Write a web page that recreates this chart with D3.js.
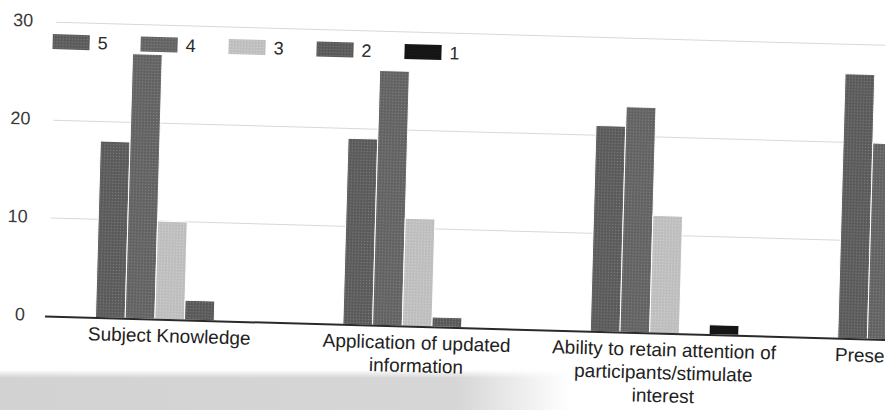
<!DOCTYPE html>
<html>
<head>
<meta charset="utf-8">
<script src="https://cdn.jsdelivr.net/npm/d3@7"></script>
<style>
  html, body { margin: 0; padding: 0; background: #fff; }
  svg { display: block; font-family: "Liberation Sans", Arial, sans-serif; }
</style>
</head>
<body>
<svg id="chart" width="885" height="410"></svg>
<script>
// ---- data ----
const categories = [
  "Subject Knowledge",
  "Application of updated information",
  "Ability to retain attention of participants/stimulate interest",
  "Presentation skills"
];
const seriesNames = ["5", "4", "3", "2", "1"];
const values5 = [18, 19, 21, 27];
const values4 = [27, 26, 23, 20];
const values3 = [10, 11, 12, 9];
const values2 = [2, 1, 0, 1];
const values1 = [0, 0, 1, 0];
const tickValues = [0, 10, 20, 30];
const seriesValues = [values5, values4, values3, values2, values1];
const seriesColors = ["#5a5a5a", "#626262", "#bdbdbd", "#585858", "#141414"];

// ---- layout ----
const W = 885, H = 410;
const left = 46, baseY = 316, topY = 22, step = 247.5;
const angle = 1.6;

const svg = d3.select("#chart");
svg.append("rect").attr("width", W).attr("height", H).attr("fill", "#fff");

const defs = svg.append("defs");
seriesColors.forEach((c, i) => {
  const p = defs.append("pattern").attr("id", "tex" + i)
    .attr("width", 3).attr("height", 3).attr("patternUnits", "userSpaceOnUse");
  p.append("rect").attr("width", 3).attr("height", 3).attr("fill", c);
  p.append("circle").attr("cx", 1.5).attr("cy", 1.5).attr("r", 0.7)
    .attr("fill", i === 4 ? "#333" : "#fff").attr("opacity", i === 2 ? 0.35 : 0.22);
});
const grad = defs.append("linearGradient").attr("id", "scan").attr("x1", 0).attr("x2", 1);
grad.append("stop").attr("offset", 0).attr("stop-color", "#d2d2d2");
grad.append("stop").attr("offset", 0.8).attr("stop-color", "#d6d6d6");
grad.append("stop").attr("offset", 1).attr("stop-color", "#fff");
const gradV = defs.append("linearGradient").attr("id", "scanV").attr("x1", 0).attr("x2", 0).attr("y1", 0).attr("y2", 1);
gradV.append("stop").attr("offset", 0).attr("stop-color", "#fff").attr("stop-opacity", 1);
gradV.append("stop").attr("offset", 0.2).attr("stop-color", "#fff").attr("stop-opacity", 0);
gradV.append("stop").attr("offset", 1).attr("stop-color", "#fff").attr("stop-opacity", 0);

// scan shadow at bottom
svg.append("rect").attr("x", 0).attr("y", 370).attr("width", 570).attr("height", 40).attr("fill", "url(#scan)");
svg.append("rect").attr("x", 0).attr("y", 370).attr("width", 570).attr("height", 40).attr("fill", "url(#scanV)");

const g = svg.append("g").attr("transform", `rotate(${angle},${left - 1},${baseY})`);

const y = d3.scaleLinear().domain([0, 30]).range([baseY, topY]);
const x0 = d3.scaleBand().domain(categories)
  .range([left, left + categories.length * step])
  .paddingInner(0.4).paddingOuter(0.2);
const x1 = d3.scaleBand().domain(seriesNames).range([0, x0.bandwidth()]);

// gridlines
g.append("g").selectAll("line").data(tickValues.filter(t => t > 0)).join("line")
  .attr("x1", left + 2).attr("x2", 1100)
  .attr("y1", d => y(d)).attr("y2", d => y(d))
  .attr("stroke", "#d8d8d8").attr("stroke-width", 1);

// y tick labels
g.append("g").selectAll("text").data(tickValues).join("text")
  .attr("x", 25).attr("y", d => y(d) + 5)
  .attr("text-anchor", "end").attr("font-size", 18).attr("fill", "#3a3a3a")
  .text(d => d);

// bars
const groups = g.append("g").selectAll("g").data(categories).join("g")
  .attr("transform", c => `translate(${x0(c)},0)`);
groups.selectAll("rect")
  .data((c, ci) => seriesNames.map((s, si) => ({ s, si, v: seriesValues[si][ci] })))
  .join("rect")
  .attr("x", d => x1(d.s))
  .attr("width", x1.bandwidth())
  .attr("y", d => y(d.v))
  .attr("height", d => baseY - y(d.v))
  .attr("fill", d => `url(#tex${d.si})`)
  .attr("stroke", "#fff").attr("stroke-width", 1);

// x axis line
g.append("line").attr("x1", left - 1).attr("x2", 1100)
  .attr("y1", baseY + 0.5).attr("y2", baseY + 0.5)
  .attr("stroke", "#2a2a2a").attr("stroke-width", 2);

// category labels with wrapping
const maxW = 235;
g.append("g").selectAll("text").data(categories).join("text")
  .attr("x", c => x0(c) + x0.bandwidth() / 2)
  .attr("y", baseY + 23)
  .attr("text-anchor", "middle").attr("font-size", 19).attr("fill", "#222")
  .each(function (c) {
    const t = d3.select(this);
    const words = c.split(" ");
    let line = [];
    let tspan = t.append("tspan").attr("x", t.attr("x")).attr("dy", 0);
    words.forEach(w => {
      line.push(w);
      tspan.text(line.join(" "));
      if (tspan.node().getComputedTextLength() > maxW && line.length > 1) {
        line.pop();
        tspan.text(line.join(" "));
        line = [w];
        tspan = t.append("tspan").attr("x", t.attr("x")).attr("dy", 23).text(w);
      }
    });
  });

// legend
const legend = g.append("g").selectAll("g").data(seriesNames).join("g")
  .attr("transform", (d, i) => `translate(${45 + i * 88},34)`);
legend.append("rect").attr("width", 37).attr("height", 15)
  .attr("fill", (d, i) => `url(#tex${i})`);
legend.append("text").attr("x", 45).attr("y", 14)
  .attr("font-size", 18).attr("fill", "#2a2a2a").text(d => d);
</script>
</body>
</html>
